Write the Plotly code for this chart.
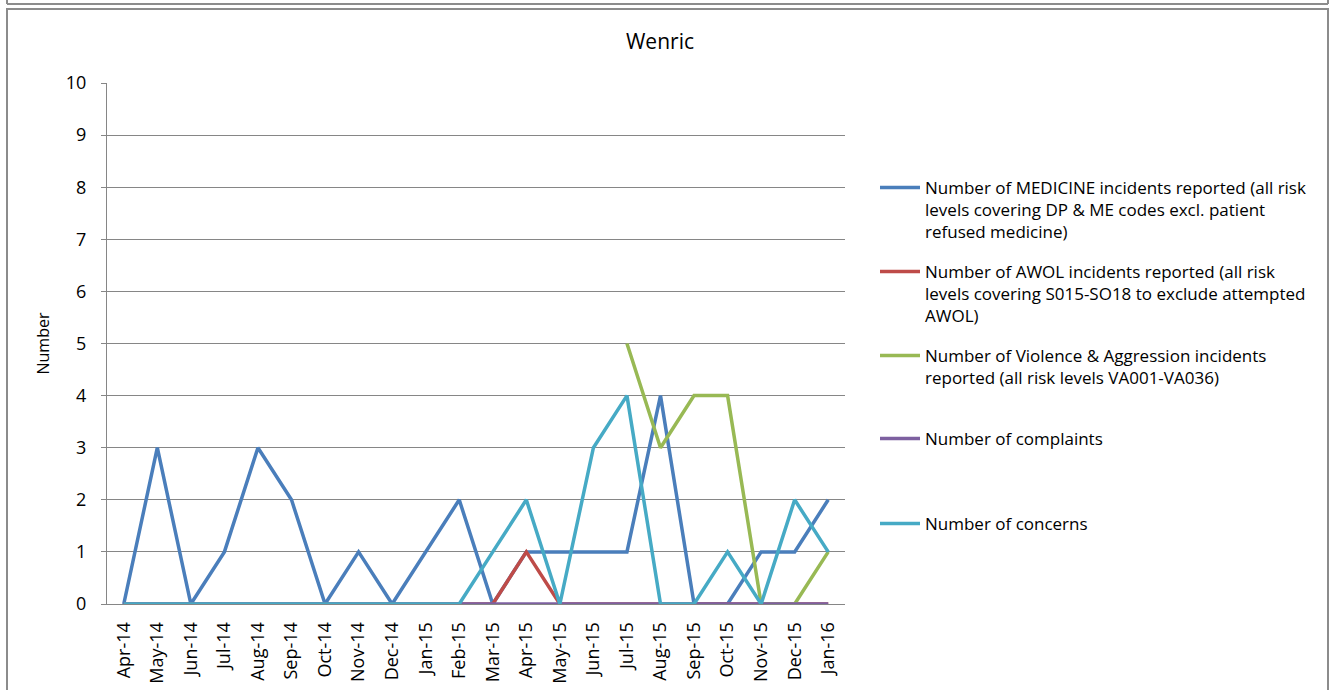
import plotly.graph_objects as go

# categories (months)
months = ['Apr-14', 'May-14', 'Jun-14', 'Jul-14', 'Aug-14', 'Sep-14', 'Oct-14', 'Nov-14',
          'Dec-14', 'Jan-15', 'Feb-15', 'Mar-15', 'Apr-15', 'May-15', 'Jun-15', 'Jul-15',
          'Aug-15', 'Sep-15', 'Oct-15', 'Nov-15', 'Dec-15', 'Jan-16']

medicine = [0, 3, 0, 1, 3, 2, 0, 1, 0, 1, 2, 0, 1, 1, 1, 1, 4, 0, 0, 1, 1, 2]
awol = [0, 0, 0, 0, 0, 0, 0, 0, 0, 0, 0, 0, 1, 0, 0, 0, 0, 0, 0, 0, 0, 0]
violence = [None, None, None, None, None, None, None, None, None, None, None, None,
            None, None, None, 5, 3, 4, 4, 0, 0, 1]
complaints = [0] * 22
concerns = [0, 0, 0, 0, 0, 0, 0, 0, 0, 0, 0, 1, 2, 0, 3, 4, 0, 0, 1, 0, 2, 1]

names = [
    'Number of MEDICINE incidents reported (all risk<br>levels covering DP &amp; ME codes excl. patient<br>refused medicine)',
    'Number of AWOL incidents reported (all risk<br>levels covering S015-SO18 to exclude attempted<br>AWOL)',
    'Number of Violence &amp; Aggression incidents<br>reported (all risk levels VA001-VA036)',
    'Number of complaints',
    'Number of concerns',
]
series = [medicine, awol, violence, complaints, concerns]
colors = ['#4a7ebb', '#be4b48', '#98b954', '#7d60a0', '#46aac5']

FONT = 'Open Sans'

# plot area in pixels
L, R, T, B = 107, 845, 83, 604
W, H = 1339, 690


def px(x):
    return (x - L) / (R - L)


def py(y):
    return (B - y) / (B - T)


fig = go.Figure()
legend_ids = ['legend', 'legend2', 'legend3', 'legend4', 'legend5']
for s, n, c, lg in zip(series, names, colors, legend_ids):
    fig.add_trace(go.Scatter(x=months, y=s, name=n, mode='lines', showlegend=True,
                             line=dict(color=c, width=3.5), legend=lg))

legend_tops = [170, 254, 338, 421, 506]
leg = {}
for lg, top in zip(legend_ids, legend_tops):
    leg[lg] = dict(x=px(875), y=py(top), xanchor='left', yanchor='top', valign='top',
                   bgcolor='rgba(0,0,0,0)', font=dict(family=FONT, size=17, color='#000'),
                   itemwidth=40, visible=True)

frame = dict(type='line', xref='paper', yref='paper', line=dict(color='#8c8c8c', width=2))
shapes = [
    dict(frame, type='rect', x0=px(7), x1=px(1328), y0=py(9), y1=py(720)),
    dict(frame, x0=px(7), x1=px(1328), y0=py(4), y1=py(4)),
    dict(frame, x0=px(7), x1=px(7), y0=py(-5), y1=py(4)),
    dict(frame, x0=px(1328), x1=px(1328), y0=py(-5), y1=py(4)),
]

fig.update_layout(
    width=W, height=H,
    margin=dict(l=L, r=W - R, t=T, b=H - B),
    paper_bgcolor='white', plot_bgcolor='white',
    showlegend=True,
    font=dict(family=FONT, size=14, color='#000'),
    title=dict(text='Wenric', xref='container', x=660 / W, xanchor='center',
               y=1 - 42 / H, yanchor='middle',
               font=dict(family=FONT, size=21, color='#000')),
    shapes=shapes,
    **leg,
)
fig.update_xaxes(type='category', tickangle=-90, showgrid=False, showline=True,
                 linecolor='#868686', linewidth=1, ticks='', tickfont=dict(size=18),
                 ticklabelstandoff=10, range=[-0.5, 21.5], automargin=False)
fig.update_yaxes(range=[0, 10], dtick=1, showgrid=True, gridcolor='#868686', gridwidth=1,
                 showline=True, linecolor='#868686', linewidth=1, ticks='outside',
                 ticklen=5, tickcolor='#868686', tickfont=dict(size=18),
                 ticklabelstandoff=11, zeroline=False, automargin=False,
                 title=dict(text='Number', font=dict(size=16), standoff=12))

fig.write_html('out.html', config={'displayModeBar': False},
               post_script="document.body.style.margin='0';")
